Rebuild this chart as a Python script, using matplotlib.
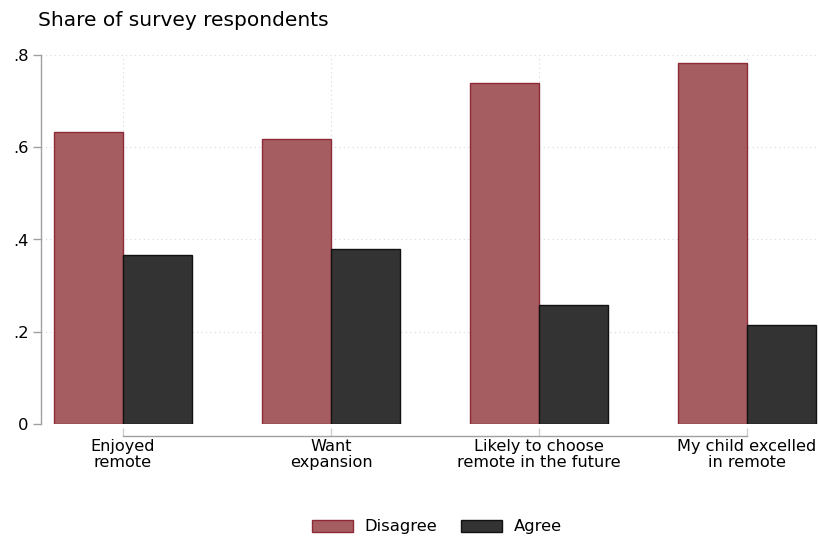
import matplotlib
matplotlib.use("Agg")
import matplotlib.pyplot as plt
import numpy as np

categories = ["Enjoyed\nremote", "Want\nexpansion", "Likely to choose\nremote in the future", "My child excelled\nin remote"]
disagree = [0.633, 0.618, 0.739, 0.783]
agree = [0.367, 0.379, 0.258, 0.215]
yticks = [0, 0.2, 0.4, 0.6, 0.8]
yticklabels = ["0", ".2", ".4", ".6", ".8"]

fig = plt.figure(figsize=(8.18, 5.39), dpi=100)
ax = fig.add_axes([41/818, (539-424)/539, 777/818, 369/539])

x = np.arange(len(categories))
w = 69/208
red_fill = "#a55d61"
red_edge = "#8e2a35"
dark_fill = "#333333"
dark_edge = "#111111"

for s in ["top", "right"]:
    ax.spines[s].set_visible(False)
ax.spines["left"].set_color("#a0a0a0")
ax.spines["left"].set_linewidth(1.0)
ax.spines["bottom"].set_color("#a0a0a0")
ax.spines["bottom"].set_linewidth(1.0)
ax.spines["bottom"].set_position(("outward", 8.6))

ax.set_axisbelow(True)
b1 = ax.bar(x - w/2, disagree, w, color=red_fill, edgecolor=red_edge, linewidth=1.0, label="Disagree")
b2 = ax.bar(x + w/2, agree, w, color=dark_fill, edgecolor=dark_edge, linewidth=1.0, label="Agree")

ax.set_xlim((41-123)/208, (818-123)/208)
ax.set_ylim(0, 0.8)
ax.spines["left"].set_bounds(0, 0.8)
ax.spines["bottom"].set_bounds(0, 3)

ax.set_yticks(yticks)
ax.set_yticklabels(yticklabels, fontsize=11.8)
ax.set_xticks(x)
ax.set_xticklabels(categories, fontsize=11.6, linespacing=1.1)

ax.grid(True, which="major", axis="both", linestyle=(0, (1, 3)), color="#d8d8d8", linewidth=0.8)

ax.tick_params(axis="y", direction="out", length=6, width=1.0, color="#a0a0a0", pad=3)
ax.tick_params(axis="x", direction="in", length=6, width=1.0, color="#d0d0d0", pad=2)

fig.text(38/818, 1 - 20/539, "Share of survey respondents", fontsize=14.5, ha="left", va="center")

fig.legend(handles=[b1, b2], labels=["Disagree", "Agree"], loc="center",
           bbox_to_anchor=(437/818, 1 - 527/539), ncol=2, frameon=False,
           fontsize=11.8, handlelength=2.5, handleheight=0.75,
           handletextpad=0.7, columnspacing=1.45)

fig.savefig("out.png", dpi=100)
